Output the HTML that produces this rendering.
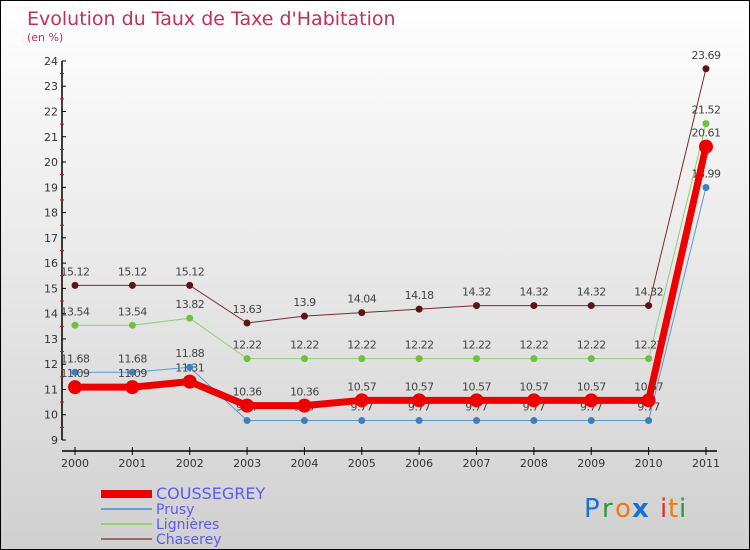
<!DOCTYPE html>
<html><head><meta charset="utf-8"><style>
body{margin:0}
#c{width:748px;height:548px;border:1px solid #000;background:linear-gradient(#fff,#d0d0d0);position:relative;font-family:"DejaVu Sans","Liberation Sans",sans-serif;overflow:hidden}
svg text{font-family:"DejaVu Sans","Liberation Sans",sans-serif}
</style></head><body>
<div id="c">
<svg id="s" width="748" height="548">
<text x="26" y="24" font-size="19" fill="#c0305a">Evolution du Taux de Taxe d'Habitation</text>
<text x="26" y="40" font-size="11" fill="#c0305a">(en %)</text>
<g id="g"></g>
<g font-size="26" font-family="DejaVu Sans">
<text x="583" y="516" fill="#1a6fd0">P</text><text x="601" y="516" fill="#2a9a3a">r</text><text x="614" y="516" fill="#f07a10">o</text><text x="631" y="516" fill="#1a6fd0" font-weight="bold">x</text><text x="659" y="516" fill="#e03020">i</text><text x="667" y="516" fill="#f07a10">t</text><text x="678" y="516" fill="#2a9a3a">i</text>
</g>
</svg></div>
<script>
const years=["2000","2001","2002","2003","2004","2005","2006","2007","2008","2009","2010","2011"];
const yTicks=[9,10,11,12,13,14,15,16,17,18,19,20,21,22,23,24];
const coussegrey=[11.09,11.09,11.31,10.36,10.36,10.57,10.57,10.57,10.57,10.57,10.57,20.61];
const prusy=[11.68,11.68,11.88,9.77,9.77,9.77,9.77,9.77,9.77,9.77,9.77,18.99];
const lignieres=[13.54,13.54,13.82,12.22,12.22,12.22,12.22,12.22,12.22,12.22,12.22,21.52];
const chaserey=[15.12,15.12,15.12,13.63,13.9,14.04,14.18,14.32,14.32,14.32,14.32,23.69];
const NS="http://www.w3.org/2000/svg",g=document.getElementById('g');
const X=i=>74+i*57.36, Y=v=>439-(v-9)*25.27;
function el(t,a,p){const e=document.createElementNS(NS,t);for(const k in a)e.setAttribute(k,a[k]);(p||g).appendChild(e);return e;}
let e=el('line',{x1:61,y1:Y(24),x2:61,y2:Y(9),stroke:'#000','stroke-width':1.5});

yTicks.forEach(v=>{el('line',{x1:61,x2:65,y1:Y(v),y2:Y(v),stroke:'#000'});
 if(v<24)el('line',{x1:59,x2:63,y1:Y(v+0.5),y2:Y(v+0.5),stroke:'#e00'});
 const t=el('text',{x:57,y:Y(v)+4,'text-anchor':'end','font-size':11,fill:'#333'});t.textContent=v;
 });
e=el('line',{x1:61,y1:450,x2:716,y2:450,stroke:'#000','stroke-width':1.5});

years.forEach((y,i)=>{el('line',{x1:X(i),x2:X(i),y1:446,y2:454,stroke:'#000'});
 const t=el('text',{x:X(i),y:466,'text-anchor':'middle','font-size':11,fill:'#333'});t.textContent=y;
 });
const series=[["chaserey",chaserey,"#7a2a2a",1,"#5a1515",3.5],["lignieres",lignieres,"#90d070",1,"#70c040",3.5],["prusy",prusy,"#5a9ad0",1,"#3a80c0",3.5],["coussegrey",coussegrey,"#ee0000",7,"#ee0000",7]];
series.forEach(([n,d,c,w,mc,r])=>{
 const p=el('polyline',{points:d.map((v,i)=>X(i)+','+Y(v)).join(' '),fill:'none',stroke:c,'stroke-width':w});
 
 d.forEach((v,i)=>{const m=el('circle',{cx:X(i),cy:Y(v),r:r,fill:mc});
  
  const t=el('text',{x:X(i),y:Y(v)-10,'text-anchor':'middle','font-size':11,fill:'#444','letter-spacing':'-0.5'});t.textContent=v;
  });
});
const leg=[["COUSSEGREY","#ee0000",8,14],["Prusy","#6aa0d0",2,12],["Lignières","#90d070",2,12],["Chaserey","#9a6a6a",2,12]];
leg.forEach(([n,c,w,fs],i)=>{const y=492+i*15;
 const l=el('line',{x1:100,x2:151,y1:y+1,y2:y+1,stroke:c,'stroke-width':w});
 
 const t=el('text',{x:155,y:y+6,'font-size':fs+2,fill:'#5a5af0'});t.textContent=n;
 });
</script></body></html>
